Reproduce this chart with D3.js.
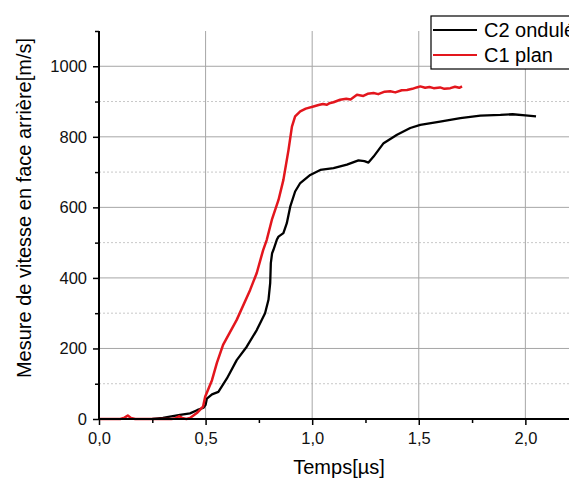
<!DOCTYPE html>
<html>
<head>
<meta charset="utf-8">
<script src="https://cdn.jsdelivr.net/npm/d3@7"></script>
<style>
  body { margin: 0; background: #fff; }
  svg { display: block; font-family: "Liberation Sans", Arial, sans-serif; }
</style>
</head>
<body>
<svg id="chart"></svg>
<script>
// series names + colours
var seriesNames = ["C2 ondulé", "C1 plan"];
var seriesColors = ["#000000", "#e3161d"];

// C2 ondulé (black)
var blackT = [0.25, 0.3, 0.333, 0.38, 0.427, 0.46, 0.49, 0.5, 0.506, 0.53, 0.56, 0.6, 0.646, 0.693, 0.74, 0.779, 0.795, 0.803, 0.806, 0.812, 0.818, 0.834, 0.842, 0.865, 0.881, 0.897, 0.92, 0.944, 0.991, 1.038, 1.1, 1.163, 1.217, 1.245, 1.264, 1.288, 1.335, 1.398, 1.46, 1.507, 1.6, 1.695, 1.789, 1.883, 1.94, 2.0, 2.05];
var blackV = [0, 3, 7, 12, 16, 25, 32, 40, 58, 70, 77, 115, 167, 205, 252, 300, 338, 385, 442, 470, 479, 508, 517, 527, 555, 602, 645, 669, 692, 706, 711, 721, 733, 731, 727, 744, 782, 806, 825, 834, 843, 853, 860, 862, 864, 861, 858];

// C1 plan (red)
var redT = [0, 0.10, 0.12, 0.135, 0.15, 0.17, 0.34, 0.36, 0.375, 0.39, 0.41, 0.427, 0.459, 0.488, 0.498, 0.53, 0.553, 0.582, 0.646, 0.709, 0.74, 0.77, 0.787, 0.811, 0.842, 0.865, 0.889, 0.905, 0.92, 0.944, 0.97, 1.006, 1.03, 1.05, 1.069, 1.08, 1.1, 1.131, 1.16, 1.18, 1.21, 1.24, 1.26, 1.288, 1.31, 1.34, 1.366, 1.39, 1.42, 1.445, 1.47, 1.49, 1.507, 1.53, 1.55, 1.57, 1.6, 1.62, 1.648, 1.67, 1.69, 1.703];
var redV = [0, 0, 4, 10, 3, 0, 0, 2, 8, 3, 0, 3, 17, 35, 63, 110, 159, 210, 281, 366, 414, 479, 508, 565, 621, 678, 763, 829, 858, 872, 880, 886, 890, 893, 891, 895, 898, 905, 908, 906, 919, 916, 922, 924, 921, 928, 929, 926, 932, 933, 936, 940, 943, 939, 941, 938, 940, 936, 938, 942, 939, 943];

// ticks
var xMajor = [0, 0.5, 1.0, 1.5, 2.0];
var xMinor = [0.25, 0.75, 1.25, 1.75];
var yMajor = [0, 200, 400, 600, 800, 1000];
var yMinor = [100, 300, 500, 700, 900, 1100];

var W = 569, H = 478;
var pLeft = 99, pRight = 568, pTop = 31, pBottom = 419;

var svg = d3.select("#chart").attr("width", W).attr("height", H);

var x = d3.scaleLinear().domain([0, 2.2]).range([pLeft, pRight]);
var y = d3.scaleLinear().domain([0, 1100]).range([pBottom, pTop]);

var fmt = d => d3.format(".1f")(d).replace(".", ",");

// grid: minor dotted, major solid
svg.append("g").selectAll("line")
    .data(yMinor.slice(0, -1))
    .enter().append("line")
    .attr("x1", pLeft).attr("x2", W)
    .attr("y1", d => y(d)).attr("y2", d => y(d))
    .attr("stroke", "#c8c8c8").attr("stroke-dasharray", "2,2");

svg.append("g").selectAll("line")
    .data(yMajor.slice(1))
    .enter().append("line")
    .attr("x1", pLeft).attr("x2", W)
    .attr("y1", d => y(d)).attr("y2", d => y(d))
    .attr("stroke", "#a6a6a6");

svg.append("g").selectAll("line")
    .data(xMajor.slice(1))
    .enter().append("line")
    .attr("x1", d => x(d)).attr("x2", d => x(d))
    .attr("y1", pTop).attr("y2", pBottom)
    .attr("stroke", "#a6a6a6");

// curves
var line = d3.line().x(d => x(d[0])).y(d => y(d[1]));
var blackData = d3.zip(blackT, blackV);
var redData = d3.zip(redT, redV);

svg.append("path").datum(blackData)
    .attr("d", line).attr("fill", "none")
    .attr("stroke", seriesColors[0]).attr("stroke-width", 2.3)
    .attr("stroke-linejoin", "round");

svg.append("path").datum(redData)
    .attr("d", line).attr("fill", "none")
    .attr("stroke", seriesColors[1]).attr("stroke-width", 2.5)
    .attr("stroke-linejoin", "round");

// axes
svg.append("g").attr("transform", "translate(0," + pBottom + ")")
    .call(d3.axisBottom(x).tickValues(xMajor).tickFormat(fmt).tickSize(6).tickPadding(7));
svg.append("g").attr("transform", "translate(0," + pBottom + ")")
    .call(d3.axisBottom(x).tickValues(xMinor).tickFormat("").tickSize(4));

svg.append("g").attr("transform", "translate(" + pLeft + ",0)")
    .call(d3.axisLeft(y).tickValues(yMajor).tickFormat(d3.format("d")).tickSize(6).tickPadding(6));
svg.append("g").attr("transform", "translate(" + pLeft + ",0)")
    .call(d3.axisLeft(y).tickValues(yMinor).tickFormat("").tickSize(4));

svg.selectAll(".domain").remove();
svg.append("line").attr("x1", pLeft).attr("x2", W).attr("y1", pBottom).attr("y2", pBottom)
    .attr("stroke", "#000").attr("stroke-width", 2);
svg.append("line").attr("x1", pLeft).attr("x2", pLeft).attr("y1", pTop).attr("y2", pBottom)
    .attr("stroke", "#000").attr("stroke-width", 2);

svg.selectAll(".tick line").attr("stroke", "#000").attr("stroke-width", 1.5);
svg.selectAll(".tick text").attr("font-size", 16.5).attr("fill", "#111")
    .attr("font-family", "Liberation Sans, Arial, sans-serif");

// axis titles
svg.append("text").attr("x", 339).attr("y", 474)
    .attr("text-anchor", "middle").attr("font-size", 20).text("Temps[µs]");
svg.append("text").attr("transform", "translate(31,208) rotate(-90)")
    .attr("text-anchor", "middle").attr("font-size", 20)
    .text("Mesure de vitesse en face arrière[m/s]");

// legend
var lg = svg.append("g");
lg.append("rect").attr("x", 431).attr("y", 16).attr("width", 160).attr("height", 53)
    .attr("fill", "#fff").attr("stroke", "#000").attr("stroke-width", 1.2);
var items = lg.selectAll("g.item").data(seriesNames).enter().append("g")
    .attr("transform", (d, i) => "translate(0," + (30 + i * 25) + ")");
items.append("line").attr("x1", 433).attr("x2", 477)
    .attr("stroke", (d, i) => seriesColors[i]).attr("stroke-width", 2.2);
items.append("text").attr("x", 484).attr("y", 7).attr("font-size", 20).text(d => d);
</script>
</body>
</html>
